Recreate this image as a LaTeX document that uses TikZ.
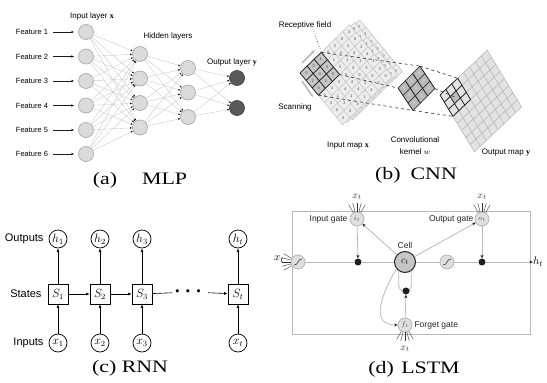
\documentclass[tikz,border=0pt]{standalone}
\usepackage{fontspec}
\setmainfont{Liberation Serif}
\setsansfont{Liberation Sans}
\usepackage{amsmath,amssymb}
\usepackage{graphicx}
\usetikzlibrary{arrows.meta, positioning}

\tikzset{
  neuron/.style={circle, draw=gray!65, fill=gray!28, line width=0.7pt, minimum size=15pt, inner sep=0pt},
  outneuron/.style={neuron, draw=gray!55!black, fill=gray!70!black},
  link/.style={gray!40, line width=0.4pt, -{Latex[length=2pt, width=2pt, color=gray!20!black]}},
  feat/.style={font=\sffamily\fontsize{7.5}{8}\selectfont, inner sep=1pt},
  lbl/.style={font=\sffamily\fontsize{8}{9}\selectfont, inner sep=1pt},
  capt/.style={font=\fontsize{17.5}{20}\selectfont, inner sep=0pt},
  rnnnode/.style={circle, draw, line width=0.7pt, minimum size=18pt, inner sep=0pt, font=\fontsize{12}{12}\selectfont},
  rnnstate/.style={rectangle, draw, line width=0.7pt, minimum size=20pt, inner sep=0pt, font=\fontsize{12}{12}\selectfont},
  rnnlbl/.style={font=\sffamily\fontsize{11}{12}\selectfont, inner sep=0pt},
  rnnarr/.style={line width=0.6pt, -{Latex[length=3.5pt, width=3pt]}},
  gate/.style={circle, draw=gray!60, fill=gray!25, line width=0.7pt, minimum size=14pt, inner sep=0pt, font=\fontsize{7}{7}\selectfont, text=gray!60!black},
  squash/.style={gate, path picture={\draw[gray!50!black, line width=0.6pt, shift={(path picture bounding box.center)}] (-4pt,-3pt) .. controls (1pt,-3pt) and (-1pt,3pt) .. (4pt,3pt);}},
  mult/.style={circle, fill=gray!25!black, minimum size=7pt, inner sep=0pt},
  lstmline/.style={gray!55, line width=0.8pt},
  lstmarr/.style={lstmline, -{Stealth[length=3.5pt, width=3pt, color=gray!20!black]}},
  fan/.style={gray!40!black, line width=0.4pt},
  glbl/.style={font=\sffamily\fontsize{8.5}{9}\selectfont, text=gray!30!black, inner sep=0pt},
  cellgrid/.style={gray!55, line width=0.4pt},
  rfgrid/.style={gray!20!black, line width=0.7pt},
  digit/.style={font=\sffamily\fontsize{4}{4}\selectfont, text=gray!55!black, inner sep=0pt},
  cnnlbl/.style={font=\sffamily\fontsize{8}{12}\selectfont, inner sep=0pt, align=center},
  dashln/.style={dashed, gray!35!black, line width=0.6pt}
}

\begin{document}
\begin{tikzpicture}[x=1pt, y=-1pt]
  \useasboundingbox (0,0) rectangle (547,383);

  % (a) MLP
  \foreach \i/\y in {1/32,2/56.5,3/81,4/105.5,5/130,6/154} {
    \node[neuron] (in\i) at (86,\y) {};
    \node[feat] (ft\i) at (32,\y) {Feature \i};
    \draw[line width=0.5pt, gray!20!black, -{Stealth[length=3pt]}, shorten <=4pt, shorten >=4pt] (ft\i) -- (in\i);
  }
  \foreach \i/\y in {1/54,2/78.5,3/103,4/127.5}
    \node[neuron] (ha\i) at (140,\y) {};
  \foreach \i/\y in {1/68,2/92.5,3/117}
    \node[neuron] (hb\i) at (188,\y) {};
  \foreach \i/\y in {1/78,2/108}
    \node[outneuron] (out\i) at (237,\y) {};
  \foreach \i in {1,...,6}
    \foreach \j in {1,...,4}
      \draw[link] (in\i) -- (ha\j);
  \foreach \i in {1,...,4}
    \foreach \j in {1,...,3}
      \draw[link] (ha\i) -- (hb\j);
  \foreach \i in {1,...,3}
    \foreach \j in {1,2}
      \draw[link] (hb\i) -- (out\j);
  \node[lbl] (inlbl) at (92,16) {Input layer $\mathbf{x}$};
  \node[lbl] (hidlbl) at (168,36) {Hidden layers};
  \node[lbl] (outlbl) at (232,62) {Output layer $\mathbf{y}$};
  \node[capt] (capa) at (140,180) {\scalebox{1.25}[1]{(a)\hspace{20pt}MLP}};

  % (b) CNN
  \foreach \k in {2,1,0} {
    \begin{scope}[shift={(300+5*\k,73-2.5*\k)}, x={(7.1pt,6.9pt)}, y={(6.1pt,-7.4pt)}]
      \fill[gray!14] (0,0) -- (7,0) -- (7,7) -- (0,7) -- cycle;
      \fill[gray!45] (0,0) -- (3,0) -- (3,3) -- (0,3) -- cycle;
      \foreach \t in {0,...,7} {
        \draw[cellgrid] (\t,0) -- (\t,7);
        \draw[cellgrid] (0,\t) -- (7,\t);
      }
      \foreach \i in {0,...,6}
        \foreach \j in {0,...,6} {
          \pgfmathtruncatemacro\dg{mod(3*\i+7*\j+2*\k,5)}
          \node[digit] (d\k-\i-\j) at (\i+0.5,\j+0.5) {\dg};
        }
      \foreach \t in {0,...,3} {
        \draw[rfgrid] (\t,0) -- (\t,3);
        \draw[rfgrid] (0,\t) -- (3,\t);
      }
    \end{scope}
  }
  \begin{scope}[shift={(300,73)}, x={(7.1pt,6.9pt)}, y={(6.1pt,-7.4pt)}]
    \coordinate (rfT) at (3,0);
    \coordinate (rfR) at (3,3);
    \coordinate (rfB) at (0,3);
  \end{scope}
  \begin{scope}[shift={(398,88)}, x={(7.3pt,7.3pt)}, y={(5pt,-7.5pt)}]
    \fill[gray!55] (0,0) -- (3,0) -- (3,3) -- (0,3) -- cycle;
    \foreach \i in {0,...,2}
      \foreach \j in {0,...,2} {
        \pgfmathtruncatemacro\dg{mod(2*\i+\j,3)}
        \node[digit, text=gray!15] (kd-\i-\j) at (\i+0.5,\j+0.5) {\dg};
      }
    \foreach \t in {0,...,3} {
      \draw[rfgrid] (\t,0) -- (\t,3);
      \draw[rfgrid] (0,\t) -- (3,\t);
    }
    \coordinate (kL) at (0,0);
    \coordinate (kT) at (3,0);
    \coordinate (kR) at (3,3);
    \coordinate (kB) at (0,3);
  \end{scope}
  \begin{scope}[shift={(440,95)}, x={(5.9pt,5.6pt)}, y={(4.3pt,-7.1pt)}]
    \fill[gray!22] (0,0) -- (8,0) -- (8,8) -- (0,8) -- cycle;
    \fill[gray!50] (1,1) -- (2,1) -- (2,2) -- (1,2) -- cycle;
    \foreach \t in {0,...,8} {
      \draw[gray!60, line width=0.5pt] (\t,0) -- (\t,8);
      \draw[gray!60, line width=0.5pt] (0,\t) -- (8,\t);
    }
    \foreach \t in {0,...,3} {
      \draw[rfgrid] (\t,0) -- (\t,3);
      \draw[rfgrid] (0,\t) -- (3,\t);
    }
    \coordinate (oT) at (3,0);
    \coordinate (oR) at (1.5,1.5);
    \coordinate (oB) at (0,3);
  \end{scope}
  \draw[dashln] (rfT) -- (kT);
  \draw[dashln] (rfR) -- (kL);
  \draw[dashln] (rfB) -- (kB);
  \draw[dashln] (kT) -- (oT);
  \draw[dashln] (kR) -- (oR);
  \draw[dashln] (kB) -- (oB);
  \draw[gray!55, line width=1.6pt, -{Stealth[length=4pt]}] (302,63) -- (315,50);
  \draw[gray!55, line width=1.6pt, -{Stealth[length=4pt]}] (302,81) -- (313,97);
  \node[cnnlbl] (rflbl) at (305,25) {Receptive field};
  \draw[dashln, dotted] (rflbl.south) ++(8pt,0) -- (rfT);
  \node[cnnlbl] (scanlbl) at (295,107) {Scanning};
  \node[cnnlbl] (inmap) at (348,146) {Input map $\mathbf{x}$};
  \node[cnnlbl] (kernlbl) at (415,146) {Convolutional\\kernel $w$};
  \node[cnnlbl] (outmap) at (506,153) {Output map $\mathbf{y}$};
  \node[capt] (capb) at (416,175) {\scalebox{1.25}[1]{(b)\hspace{8pt}CNN}};

  % (c) RNN
  \foreach \n/\x in {1/58,2/100,3/142,t/238} {
    \node[rnnnode] (h\n) at (\x,239) {$h_{\n}$};
    \node[rnnstate] (s\n) at (\x,294) {$S_{\n}$};
    \node[rnnnode] (x\n) at (\x,343) {$x_{\n}$};
    \draw[rnnarr] (x\n) -- (s\n);
    \draw[rnnarr] (s\n) -- (h\n);
  }
  \node[font=\fontsize{20}{20}\selectfont, inner sep=2pt] (dots) at (190,292) {$\boldsymbol{\cdots}$};
  \draw[rnnarr] (s1) -- (s2);
  \draw[rnnarr] (s2) -- (s3);
  \draw[line width=0.6pt] (s3) -- (dots);
  \draw[rnnarr] (dots) -- (st);
  \node[rnnlbl, left=5pt of h1] (outs) {Outputs};
  \node[rnnlbl, left=6pt of s1] (states) {States};
  \node[rnnlbl, left=5pt of x1] (ins) {Inputs};
  \node[capt] (capc) at (130,368) {\scalebox{1.25}[1]{(c) RNN}};

  % (d) LSTM
  \draw[gray!55, line width=0.9pt] (292,211) rectangle (530,334);
  \node[gate] (ig) at (357,219) {$i_t$};
  \node[gate] (og) at (482,219) {$o_t$};
  \node[gate] (fg) at (405,325) {$f_t$};
  \node[circle, draw=gray!30!black, fill=gray!45, line width=1pt, minimum size=21pt, inner sep=0pt, font=\fontsize{10}{10}\selectfont, text=gray!20!black] (cell) at (405,262) {$c_t$};
  \node[squash] (sq1) at (298,262) {};
  \node[squash] (sq2) at (447,262) {};
  \node[mult] (m1) at (358,262) {};
  \node[mult] (m2) at (482,262) {};
  \node[inner sep=0pt, font=\fontsize{11}{11}\selectfont] (xin) at (279,259) {$x_t$};
  \node[inner sep=0pt, font=\fontsize{11}{11}\selectfont] (hout) at (538,262) {$h_t$};
  \draw[lstmline, rounded corners=5pt] (cell.235) |- (406,291) -| (cell.305);
  \node[mult] (m3) at (406,291) {};
  \draw[lstmline] (sq1) -- (m1);
  \draw[lstmline] (m1) -- (cell);
  \draw[lstmline] (cell) -- (sq2);
  \draw[lstmline] (sq2) -- (m2);
  \draw[lstmarr] (m2) -- (hout);
  \draw[lstmarr] (ig) -- (m1);
  \draw[lstmarr] (og) -- (m2);
  \draw[lstmarr] (cell) -- (ig);
  \draw[lstmarr] (cell) -- (og);
  \draw[lstmarr] (fg) -- (m3);
  \draw[lstmarr] (cell.218) to[out=240, in=180, looseness=1.3] (fg.west);
  \foreach \a in {60,75,90,105,120} {
    \draw[fan] (ig.\a) -- ++(\a:9pt);
    \draw[fan] (og.\a) -- ++(\a:9pt);
  }
  \foreach \a in {240,255,270,285,300}
    \draw[fan] (fg.\a) -- ++(\a:9pt);
  \foreach \a in {150,165,180,195,210}
    \draw[fan] (sq1.\a) -- ++(\a:9pt);
  \node[glbl, left=2pt of ig] (iglbl) {Input gate};
  \node[glbl, left=1pt of og] (oglbl) {Output gate};
  \node[glbl, above=2pt of cell] (celllbl) {Cell};
  \node[glbl, right=2pt of fg] (fglbl) {Forget gate};
  \node[inner sep=0pt, font=\fontsize{10}{10}\selectfont, text=gray!40!black] (xi) at (357,197) {$x_t$};
  \node[inner sep=0pt, font=\fontsize{10}{10}\selectfont, text=gray!40!black] (xo) at (482,197) {$x_t$};
  \node[inner sep=0pt, font=\fontsize{10}{10}\selectfont, text=gray!40!black] (xf) at (405,349) {$x_t$};
  \node[capt] (capd) at (414,369) {\scalebox{1.25}[1]{(d)\hspace{6pt}LSTM}};
\end{tikzpicture}
\end{document}
